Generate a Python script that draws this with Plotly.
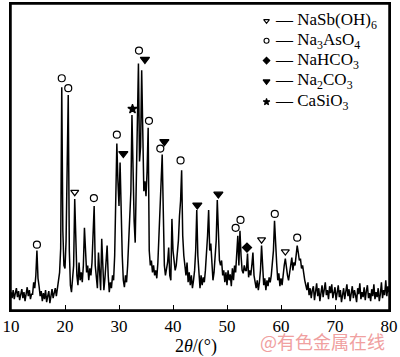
import plotly.graph_objects as go

# XRD pattern: intensity (a.u.) sampled every 0.2 deg from 10 to 80 deg 2theta
two_theta_start = 10.0
two_theta_step = 0.2
intensity = [
    # 10.0 - 11.8
    18, 12, 20, 11, 17, 22, 13, 19, 10, 16,
    # 12.0 - 13.8
    21, 12, 18, 9, 17, 23, 14, 20, 11, 16,
    # 14.0 - 15.8
    16, 28, 22, 35, 60, 32, 24, 14, 19, 9,
    # 16.0 - 17.8
    17, 11, 20, 8, 14, 19, 7, 15, 21, 12,
    # 18.0 - 19.8
    16, 22, 14, 25, 30, 38, 62, 225, 80, 45,
    # 20.0 - 21.8
    42, 70, 150, 217, 60, 25, 18, 30, 45, 112,
    # 22.0 - 23.8
    55, 35, 25, 48, 30, 38, 28, 45, 83, 50,
    # 24.0 - 25.8
    38, 45, 30, 42, 35, 48, 70, 105, 45, 30,
    # 26.0 - 27.8
    22, 58, 35, 20, 72, 40, 20, 32, 45, 65,
    # 28.0 - 29.8
    35, 18, 28, 22, 35, 30, 55, 110, 168, 130,
    # 30.0 - 31.8
    105, 149, 90, 55, 30, 23, 35, 28, 45, 70,
    # 32.0 - 33.8
    90, 120, 197, 130, 90, 68, 120, 180, 249, 150,
    # 34.0 - 35.8
    165, 242, 160, 120, 130, 115, 140, 184, 60, 45,
    # 36.0 - 37.8
    50, 38, 45, 35, 40, 32, 48, 75, 110, 140,
    # 38.0 - 39.8
    157, 100, 45, 35, 40, 48, 63, 35, 30, 92,
    # 40.0 - 41.8
    60, 48, 40, 45, 55, 70, 95, 110, 141, 75,
    # 42.0 - 43.8
    55, 45, 35, 48, 28, 38, 25, 35, 22, 30,
    # 44.0 - 45.8
    40, 60, 101, 55, 30, 22, 35, 25, 33, 28,
    # 46.0 - 47.8
    40, 55, 75, 101, 60, 67, 45, 30, 38, 50,
    # 48.0 - 49.8
    70, 111, 80, 50, 45, 50, 35, 40, 28, 38,
    # 50.0 - 51.8
    25, 40, 30, 36, 24, 42, 30, 45, 38, 55,
    # 52.0 - 53.8
    75, 45, 80, 55, 40, 37, 45, 40, 40, 57,
    # 54.0 - 55.8
    33, 40, 35, 45, 58, 35, 28, 22, 30, 20,
    # 56.0 - 57.8
    28, 40, 65, 35, 25, 32, 20, 30, 24, 33,
    # 58.0 - 59.8
    28, 35, 45, 60, 90, 60, 47, 30, 37, 24,
    # 60.0 - 61.8
    32, 25, 40, 45, 52, 40, 35, 30, 38, 42,
    # 62.0 - 63.8
    53, 40, 48, 45, 55, 65, 58, 50, 52, 42,
    # 64.0 - 65.8
    45, 35, 30, 25, 20, 28, 15, 22, 12, 20,
    # 66.0 - 67.8
    24, 10, 19, 27, 14, 22, 9, 18, 25, 13,
    # 68.0 - 69.8
    21, 28, 15, 20, 11, 24, 17, 26, 12, 19,
    # 70.0 - 71.8
    23, 10, 17, 25, 13, 20, 8, 18, 22, 11,
    # 72.0 - 73.8
    19, 26, 14, 21, 9, 17, 24, 12, 20, 15,
    # 74.0 - 75.8
    8, 22, 16, 27, 11, 18, 13, 23, 10, 19,
    # 76.0 - 77.8
    25, 12, 17, 9, 21, 14, 26, 11, 18, 13,
    # 78.0 - 79.8
    22, 9, 16, 28, 12, 20, 15, 30, 14, 24,
    # 80.0
    18,
]
two_theta = [round(two_theta_start + two_theta_step * i, 1) for i in range(len(intensity))]

# Phase markers (2theta, intensity level of the marker)
nasb_x = [21.8, 56.4, 60.8]
nasb_y = [119, 71, 59]
na3aso4_x = [14.8, 19.4, 20.6, 25.35, 29.6, 33.7, 35.55, 37.65, 41.4, 51.6, 52.5, 58.85, 63.0]
na3aso4_y = [66, 234, 224, 113, 177, 262, 191, 163, 151, 83, 91, 97, 73]
nahco3_x = [53.7]
nahco3_y = [63]
na2co3_x = [30.8, 34.8, 38.4, 44.5, 48.4]
na2co3_y = [158, 253, 170, 106, 117]
casio3_x = [32.5]
casio3_y = [203]

phase_names = ["NaSb(OH)<sub>6</sub>", "Na<sub>3</sub>AsO<sub>4</sub>", "NaHCO<sub>3</sub>",
               "Na<sub>2</sub>CO<sub>3</sub>", "CaSiO<sub>3</sub>"]
phase_symbols = ["triangle-down-open", "circle-open", "diamond", "triangle-down", "star"]
phase_sizes = [7, 7, 7, 8, 7]

x_ticks = [10, 20, 30, 40, 50, 60, 70, 80]

SERIF = "Liberation Serif, Times New Roman, serif"

fig = go.Figure()
fig.add_trace(go.Scatter(x=two_theta, y=intensity, mode="lines",
                         line=dict(color="black", width=1.5), showlegend=False,
                         hoverinfo="skip"))

marker_sets = [(nasb_x, nasb_y), (na3aso4_x, na3aso4_y), (nahco3_x, nahco3_y),
               (na2co3_x, na2co3_y), (casio3_x, casio3_y)]
for (mx, my), sym, sz in zip(marker_sets, phase_symbols, phase_sizes):
    fig.add_trace(go.Scatter(x=mx, y=my, mode="markers", showlegend=False,
                             marker=dict(symbol=sym, size=sz, color="black",
                                         line=dict(color="black", width=1.2))))

# Legend drawn on an overlay axis in [0,1] paper-like units
leg_x_sym = 0.676
leg_rows_y = [0.945, 0.88, 0.815, 0.747, 0.68]
for sym, sz, ly in zip(phase_symbols, phase_sizes, leg_rows_y):
    fig.add_trace(go.Scatter(x=[leg_x_sym], y=[ly], xaxis="x2", yaxis="y2",
                             mode="markers", showlegend=False,
                             marker=dict(symbol=sym, size=sz - 2, color="black",
                                         line=dict(color="black", width=1.1))))
for name, ly in zip(phase_names, leg_rows_y):
    fig.add_annotation(xref="x2", yref="y2", x=0.692, y=ly, text="— " + name,
                       showarrow=False, xanchor="left", yanchor="middle",
                       font=dict(family=SERIF, size=17, color="black"))

fig.add_annotation(xref="paper", yref="paper", x=0.49, y=-0.12,
                   text="2<i>θ</i>/(°)", showarrow=False, xanchor="center", yanchor="middle",
                   font=dict(family=SERIF, size=18, color="black"))
fig.add_annotation(xref="paper", yref="paper", x=0.995, y=-0.102,
                   text="@有色金属在线", showarrow=False, xanchor="right", yanchor="middle",
                   font=dict(family="Noto Sans CJK SC", size=18, color="#f0a0a0"))

# plot frame
fig.add_shape(type="rect", xref="paper", yref="paper", x0=0, y0=0, x1=1, y1=1,
              line=dict(color="black", width=1.5), layer="above")

fig.update_layout(
    width=400, height=357,
    margin=dict(l=7, r=8, t=2, b=47),
    paper_bgcolor="white", plot_bgcolor="white",
    xaxis=dict(range=[10, 80], tickvals=x_ticks, ticktext=[str(t) for t in x_ticks],
               ticks="inside", ticklen=5, tickwidth=1.3, tickcolor="black",
               ticklabeloverflow="allow",
               showline=True, linecolor="black", linewidth=1.5, mirror=True,
               showgrid=False, zeroline=False,
               tickfont=dict(family=SERIF, size=17, color="black")),
    yaxis=dict(range=[0, 309], showticklabels=False, ticks="",
               showline=True, linecolor="black", linewidth=1.5, mirror=True,
               showgrid=False, zeroline=False),
    xaxis2=dict(range=[0, 1], overlaying="x", visible=False),
    yaxis2=dict(range=[0, 1], overlaying="y", visible=False),
)

fig.write_html("out.html", config={"displayModeBar": False},
               post_script="document.body.style.margin='0px';document.body.style.overflow='hidden';")
